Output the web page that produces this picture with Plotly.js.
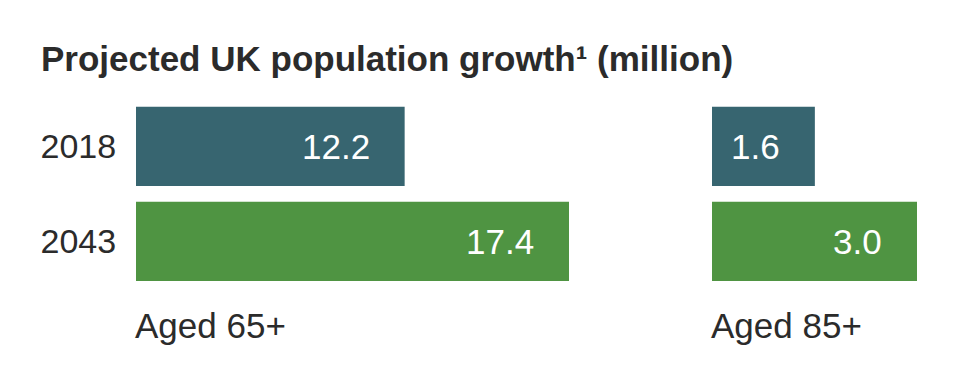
<!DOCTYPE html>
<html>
<head>
<meta charset="utf-8">
<script src="https://cdn.plot.ly/plotly-3.0.1.min.js"></script>
<style>
html,body{margin:0;padding:0;background:#fff;}
#chart{width:960px;height:373px;}
</style>
</head>
<body>
<div id="chart"></div>
<script>
// Data
const years = ["2018", "2043"];
const aged65 = [12.2, 17.4];
const aged85 = [1.6, 3.0];
const panelLabels = ["Aged 65+", "Aged 85+"];
const chartTitle = "Projected UK population growth¹ (million)";

// Styles
const barColors = ["#376570", "#4f9442"];
const textColor = "#2b2b2b";
const fontFamily = "'Liberation Sans', Arial, Helvetica, sans-serif";

const W = 960, H = 373;
const px = v => v / W;
const py = v => 1 - v / H;

const traces = [
  {type: "bar", orientation: "h", y: years, x: aged65, xaxis: "x", yaxis: "y",
   marker: {color: barColors, line: {width: 0}}, hoverinfo: "skip", showlegend: false},
  {type: "bar", orientation: "h", y: years, x: aged85, xaxis: "x2", yaxis: "y2",
   marker: {color: barColors, line: {width: 0}}, hoverinfo: "skip", showlegend: false}
];

const annotations = [];
[[aged65, "x", "y"], [aged85, "x2", "y2"]].forEach(([vals, xr, yr]) => {
  vals.forEach((v, i) => {
    annotations.push({
      x: v, y: i, xref: xr, yref: yr,
      text: v.toFixed(1), showarrow: false,
      xanchor: "right", yanchor: "middle", xshift: -33, yshift: 0,
      font: {family: fontFamily, size: 35, color: "#ffffff"}
    });
  });
});
panelLabels.forEach((t, i) => {
  annotations.push({
    x: 0, xref: (i === 0 ? "x" : "x2") + " domain",
    y: py(325), yref: "paper", xshift: -3,
    text: t, showarrow: false, xanchor: "left", yanchor: "middle",
    font: {family: fontFamily, size: 35, color: textColor}
  });
});

const yDomain = [py(288.8), py(98.8)];
const yRange = [years.length - 0.5, -0.5];

const layout = {
  width: W, height: H,
  margin: {l: 0, r: 0, t: 0, b: 0},
  paper_bgcolor: "#ffffff", plot_bgcolor: "#ffffff",
  font: {family: fontFamily, color: textColor},
  title: {
    text: chartTitle, x: px(41), xanchor: "left", xref: "paper",
    y: py(59), yanchor: "middle", yref: "paper",
    font: {family: fontFamily, size: 35, color: textColor, weight: "bold"}
  },
  bargap: 0.165,
  xaxis: {domain: [px(136), px(569)], range: [3.70, 17.4], autorange: false, anchor: "y",
          visible: false, fixedrange: true},
  xaxis2: {domain: [px(712), px(917)], range: [0.19, 3.0], autorange: false, anchor: "y2",
           visible: false, fixedrange: true},
  yaxis: {domain: yDomain, range: yRange, autorange: false, type: "category", anchor: "x",
          showgrid: false, zeroline: false, showline: false,
          ticks: "outside", ticklen: 12, tickcolor: "rgba(0,0,0,0)",
          tickfont: {family: fontFamily, size: 34, color: textColor}, fixedrange: true},
  yaxis2: {domain: yDomain, range: yRange, autorange: false, type: "category", anchor: "x2",
           showgrid: false, zeroline: false, showline: false, showticklabels: false, ticks: "",
           fixedrange: true},
  annotations: annotations
};

Plotly.newPlot("chart", traces, layout, {displayModeBar: false, staticPlot: true});
</script>
</body>
</html>
